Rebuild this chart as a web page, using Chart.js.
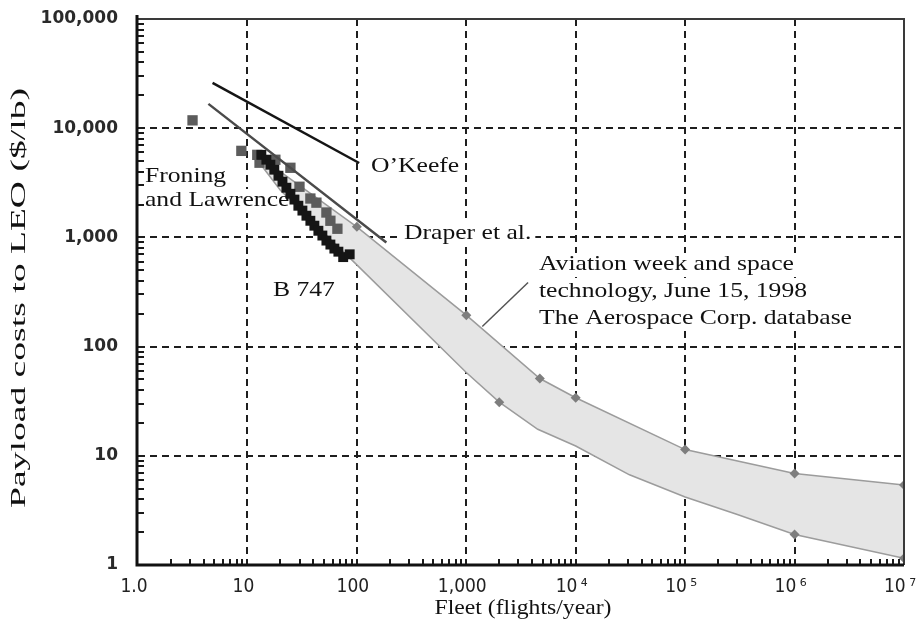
<!DOCTYPE html>
<html><head><meta charset="utf-8">
<script src="https://cdn.jsdelivr.net/npm/chart.js@4/dist/chart.umd.min.js"></script>
<style>html,body{margin:0;padding:0;background:#fff}</style>
</head><body>
<canvas id="c" width="916" height="635" style="width:916px;height:635px;display:block"></canvas>
<script>
// ---------- data ----------
const xTickValues = [1, 10, 100, 1000, 1e4, 1e5, 1e6, 1e7];
const xTickLabels = ['1.0', '10', '100', '1,000', '10\u2009\u2074', '10\u2009\u2075', '10\u2009\u2076', '10\u2009\u2077'];
const yTickValues = [1, 10, 100, 1000, 10000, 100000];
const yTickLabels = ['1', '10', '100', '1,000', '10,000', '100,000'];
const minorSteps = [2, 3, 4, 5, 6, 7, 8, 9];

const okeefeX = [4.8, 105];
const okeefeY = [26000, 4800];

const draperX = [4.4, 186];
const draperY = [16700, 900];

const froningX = [3.15, 8.8, 12.3, 12.9, 18.0, 24.7, 29.9, 37.6, 42.7, 52.7, 57.3, 66.4];
const froningY = [11800, 6200, 5700, 4830, 5140, 4340, 2910, 2270, 2080, 1690, 1420, 1200];

const b747X = [13.4, 14.9, 16.2, 17.6, 19.2, 20.9, 22.7, 24.7, 26.9, 29.2, 31.8, 34.6, 37.6, 40.9, 44.5, 48.4, 52.7, 57.3, 62.3, 67.8, 75, 86];
const b747Y = [5700, 5150, 4630, 4170, 3670, 3240, 2850, 2510, 2220, 1950, 1760, 1580, 1420, 1280, 1150, 1040, 935, 860, 790, 740, 660, 700];

const bandUpperX = [12.5, 100, 1000, 4700, 10000, 100000, 1000000, 10000000];
const bandUpperY = [5600, 1250, 194, 51, 34, 11.4, 6.9, 5.4];
const bandLowerX = [12.5, 20, 100, 1000, 2000, 4500, 10000, 31000, 100000, 300000, 1000000, 10000000];
const bandLowerY = [5000, 2700, 560, 58, 31, 17.5, 12.3, 6.7, 4.2, 2.9, 1.9, 1.15];
const bandUpperMarked = [100, 1000, 4700, 10000, 100000, 1000000, 10000000];
const bandLowerMarked = [2000, 1000000, 10000000];

const leaderX = [3670, 1400];
const leaderY = [386, 153];

// ---------- helpers ----------
const pts = (xs, ys) => xs.map((x, i) => ({x: x, y: ys[i]}));
const markRadius = (xs, marked, r) => xs.map(x => marked.includes(x) ? r : 0);

const SERIF = '"Liberation Serif", "Times New Roman", serif';
const TXT_SCALE = 1.22;
const annotations = [
  {text: 'O\u2019Keefe', x: 371, y: 172, box: false},
  {text: 'Froning', x: 145, y: 182, box: true},
  {text: 'and Lawrence', x: 145, y: 206, box: true},
  {text: 'Draper et al.', x: 404, y: 239, box: true},
  {text: 'Aviation week and space', x: 539, y: 270, box: true},
  {text: 'technology, June 15, 1998', x: 539, y: 297, box: true},
  {text: 'The Aerospace Corp. database', x: 539, y: 324, box: true},
  {text: 'B 747', x: 273, y: 296, box: true}
];

const decorPlugin = {
  id: 'decor',
  beforeDatasetsDraw(chart) {
    const ctx = chart.ctx, a = chart.chartArea;
    const xs = chart.scales.x, ys = chart.scales.y;
    ctx.save();
    // white boxes behind annotation text (hide the grid there)
    ctx.font = '21px ' + SERIF;
    ctx.fillStyle = '#fff';
    for (const t of annotations) {
      if (!t.box) continue;
      const w = ctx.measureText(t.text).width * TXT_SCALE;
      ctx.fillRect(t.x - 5, t.y - 17, w + 9, 24);
    }
    ctx.strokeStyle = '#1a1a1a';
    ctx.lineWidth = 2;
    ctx.setLineDash([]);
    // minor ticks (inward)
    for (let d = 0; d < 7; d++) {
      for (const k of minorSteps) {
        const px = Math.round(xs.getPixelForValue(k * Math.pow(10, d)));
        ctx.beginPath(); ctx.moveTo(px, a.bottom); ctx.lineTo(px, a.bottom - 6); ctx.stroke();
      }
    }
    for (let d = 0; d < 5; d++) {
      for (const k of minorSteps) {
        const py = Math.round(ys.getPixelForValue(k * Math.pow(10, d)));
        ctx.beginPath(); ctx.moveTo(a.left, py); ctx.lineTo(a.left + 6, py); ctx.stroke();
      }
    }
    ctx.restore();
  },
  afterDatasetsDraw(chart) {
    const ctx = chart.ctx, a = chart.chartArea;
    ctx.save();
    // frame
    ctx.setLineDash([]);
    ctx.strokeStyle = '#3a3a3a'; ctx.lineWidth = 2;
    ctx.beginPath(); ctx.moveTo(a.left, a.top); ctx.lineTo(a.right, a.top); ctx.lineTo(a.right, a.bottom); ctx.stroke();
    ctx.strokeStyle = '#111'; ctx.lineWidth = 3;
    ctx.beginPath(); ctx.moveTo(a.left - 1, a.top - 4); ctx.lineTo(a.left - 1, a.bottom); ctx.lineTo(a.right, a.bottom); ctx.stroke();
    // annotations
    ctx.fillStyle = '#111';
    ctx.font = '21px ' + SERIF;
    ctx.textBaseline = 'alphabetic';
    ctx.textAlign = 'left';
    for (const t of annotations) {
      ctx.save(); ctx.translate(t.x, t.y); ctx.scale(TXT_SCALE, 1); ctx.fillText(t.text, 0, 0); ctx.restore();
    }
    // axis titles
    ctx.font = '21px ' + SERIF;
    ctx.textAlign = 'center';
    ctx.textBaseline = 'middle';
    const yt = 'Payload costs to LEO ($/lb)';
    let w = ctx.measureText(yt).width;
    ctx.save(); ctx.translate(19, 298); ctx.rotate(-Math.PI / 2); ctx.scale(420 / w, 1); ctx.fillText(yt, 0, 0); ctx.restore();
    const xt = 'Fleet (flights/year)';
    w = ctx.measureText(xt).width;
    ctx.save(); ctx.translate(523, 608); ctx.scale(177 / w, 1); ctx.fillText(xt, 0, 0); ctx.restore();
    ctx.restore();
  }
};

const gridColor = (vals, skipFirst) => (c) => {
  const v = c.tick && c.tick.value;
  if (v === undefined) return 'transparent';
  if (skipFirst && v === vals[0]) return 'transparent';
  return '#1e1e1e';
};

new Chart(document.getElementById('c'), {
  type: 'scatter',
  plugins: [decorPlugin],
  data: {
    datasets: [
      {label: 'Band upper', data: pts(bandUpperX, bandUpperY), showLine: true, order: 20,
       borderColor: '#9c9c9c', borderWidth: 1.5, fill: '+1', backgroundColor: '#e5e5e5',
       pointRadius: markRadius(bandUpperX, bandUpperMarked, 5), pointStyle: 'rectRot',
       pointBackgroundColor: '#7e7e7e', pointBorderWidth: 0},
      {label: 'Band lower', data: pts(bandLowerX, bandLowerY), showLine: true, order: 19,
       borderColor: '#9c9c9c', borderWidth: 1.5, fill: false,
       pointRadius: markRadius(bandLowerX, bandLowerMarked, 5), pointStyle: 'rectRot',
       pointBackgroundColor: '#7e7e7e', pointBorderWidth: 0},
      {label: 'Froning and Lawrence', data: pts(froningX, froningY), order: 6,
       pointStyle: 'rect', pointRadius: 7.3, pointBackgroundColor: '#5c5c5c', pointBorderWidth: 0},
      {label: 'B 747', data: pts(b747X, b747Y), order: 5,
       pointStyle: 'rect', pointRadius: 7, pointBackgroundColor: '#151515', pointBorderWidth: 0},
      {label: 'Draper et al.', data: pts(draperX, draperY), showLine: true, order: 3,
       borderColor: '#4a4a4a', borderWidth: 2.5, pointRadius: 0, fill: false},
      {label: "O'Keefe", data: pts(okeefeX, okeefeY), showLine: true, order: 2,
       borderColor: '#151515', borderWidth: 2.5, pointRadius: 0, fill: false},
      {label: 'leader', data: pts(leaderX, leaderY), showLine: true, order: 1,
       borderColor: '#555', borderWidth: 1.5, pointRadius: 0, fill: false}
    ]
  },
  options: {
    responsive: false,
    animation: false,
    devicePixelRatio: 1,
    layout: {padding: {top: 19, right: 12, left: 0, bottom: 0}},
    plugins: {legend: {display: false}, tooltip: {enabled: false}, title: {display: false}},
    elements: {line: {tension: 0}},
    scales: {
      x: {
        type: 'logarithmic', min: 1, max: 1e7,
        afterBuildTicks: (s) => { s.ticks = xTickValues.map(v => ({value: v, major: true})); },
        afterFit: (s) => { s.height = 70; s.paddingLeft = 0; s.paddingRight = 0; },
        ticks: {autoSkip: false, maxRotation: 0, minRotation: 0, padding: 11, labelOffset: -4, color: '#222',
          font: {family: '"Liberation Sans Narrow", "DejaVu Sans Condensed", "Liberation Sans", sans-serif', size: 19},
          callback: (v) => { const i = xTickValues.indexOf(v); return i >= 0 ? xTickLabels[i] : ''; }},
        grid: {color: gridColor(xTickValues, true), lineWidth: 2, drawTicks: false},
        border: {display: false, dash: [7, 5]}
      },
      y: {
        type: 'logarithmic', min: 1, max: 100000,
        afterBuildTicks: (s) => { s.ticks = yTickValues.map(v => ({value: v, major: true})); },
        afterFit: (s) => { s.width = 138; s.paddingTop = 0; s.paddingBottom = 0; },
        ticks: {autoSkip: false, padding: 20, color: '#2a2a2a',
          font: {family: '"DejaVu Sans", Verdana, sans-serif', size: 17, weight: 'bold'},
          callback: (v) => { const i = yTickValues.indexOf(v); return i >= 0 ? yTickLabels[i] : ''; }},
        grid: {color: gridColor(yTickValues, true), lineWidth: 2, drawTicks: false},
        border: {display: false, dash: [7, 5]}
      }
    }
  }
});
</script>
</body></html>
